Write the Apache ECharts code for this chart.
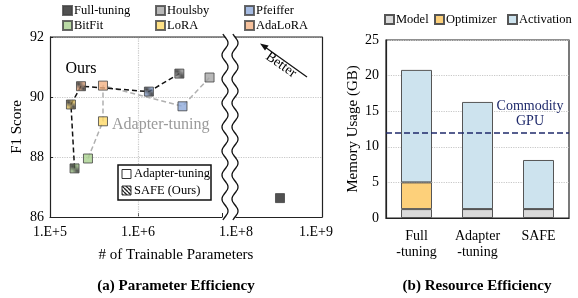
<!DOCTYPE html>
<html>
<head>
<meta charset="utf-8">
<script src="https://cdn.jsdelivr.net/npm/echarts@6/dist/echarts.min.js"></script>
<style>
  html, body { margin: 0; padding: 0; background: #fff; }
  #chart { width: 578px; height: 298px; }
</style>
</head>
<body>
<div id="chart"></div>
<script>
// ---- data (a): F1 vs trainable params ----
var methods = ["BitFit", "LoRA", "AdaLoRA", "Pfeiffer", "Houlsby"];
var adapterParams = [2.7e5, 4.0e5, 4.0e5, 3.2e6, 6.5e6];
var adapterF1 = [87.95, 89.19, 90.38, 89.69, 90.65];
var safeParams = [1.9e5, 1.73e5, 2.25e5, 1.33e6, 2.95e6];
var safeF1 = [87.62, 89.75, 90.36, 90.18, 90.78];
var fullParams = [3.55e8];
var fullF1 = [86.63];

// ---- data (b): memory usage ----
var memCats = ["Full\n-tuning", "Adapter\n-tuning", "SAFE"];
var modelMem = [1.25, 1.25, 1.25];
var optMem = [3.75, 0, 0];
var actMem = [15.8, 15.05, 6.9];
var gpuLimit = 12;

var colors = {
  "Full-tuning": "#262626", "Houlsby": "#a6a6a6", "Pfeiffer": "#8eaadb",
  "BitFit": "#a9d18e", "LoRA": "#ffd966", "AdaLoRA": "#f4b183"
};
var FONT = "Liberation Serif";

function hatch(base) {
  var c = document.createElement("canvas");
  c.width = 4; c.height = 4;
  var g = c.getContext("2d");
  g.fillStyle = base;
  g.fillRect(0, 0, 4, 4);
  g.strokeStyle = "#222";
  g.lineWidth = 1.4;
  for (var k = -1; k <= 1; k++) {
    g.beginPath();
    g.moveTo(k * 4, 0);
    g.lineTo(k * 4 + 4, 4);
    g.stroke();
  }
  return { type: "pattern", image: c, repeat: "repeat" };
}

function expLabel(v) {
  var e = Math.log10(v);
  var r = Math.round(e);
  if (Math.abs(e - r) > 1e-6) return "";
  return "1.E+" + r;
}

// wavy break lines
function wave(cx) {
  var pts = [];
  for (var y = 34; y <= 220; y += 1) {
    pts.push([cx + 3 * Math.sin(2 * Math.PI * (y - 37) / 24), y]);
  }
  return pts;
}
var waveL = wave(225), waveR = wave(235);
var maskPts = waveL.concat(waveR.slice().reverse());

var myChart = echarts.init(document.getElementById("chart"));

var series = [];
// dashed connecting lines
series.push({
  type: "line", xAxisIndex: 0, yAxisIndex: 0, z: 1, symbol: "none", silent: true,
  data: adapterParams.map(function (p, i) { return [p, adapterF1[i]]; }),
  lineStyle: { color: "#b0b0b0", width: 1.5, type: [5, 3] },
  markLine: {
    silent: true, symbol: "none", label: { show: false },
    lineStyle: { color: "#c8c8c8", type: "dotted", width: 1.2 },
    data: [{ xAxis: 1e6 }]
  }
});
series.push({
  type: "line", xAxisIndex: 0, yAxisIndex: 0, z: 1, symbol: "none", silent: true,
  data: safeParams.map(function (p, i) { return [p, safeF1[i]]; }),
  lineStyle: { color: "#111", width: 1.5, type: [5, 3] }
});
// markers
series.push({
  name: "Full-tuning", type: "scatter", xAxisIndex: 1, yAxisIndex: 1, z: 3,
  symbol: "rect", symbolSize: 9,
  itemStyle: { color: colors["Full-tuning"], borderColor: "#444", borderWidth: 1 },
  data: fullParams.map(function (p, i) { return [p, fullF1[i]]; })
});
methods.forEach(function (m, i) {
  series.push({
    name: m, type: "scatter", xAxisIndex: 0, yAxisIndex: 0, z: 3,
    symbol: "rect", symbolSize: 9,
    itemStyle: { color: colors[m], borderColor: "#444", borderWidth: 1 },
    data: [
      [adapterParams[i], adapterF1[i]],
      { value: [safeParams[i], safeF1[i]], itemStyle: { color: hatch(colors[m]) } }
    ]
  });
});
// bars
var barCommon = {
  type: "bar", xAxisIndex: 2, yAxisIndex: 2, stack: "mem", barWidth: 31
};
series.push(Object.assign({}, barCommon, {
  name: "Model", data: modelMem,
  itemStyle: { color: "#d9d9d9", borderColor: "#555", borderWidth: 1 }
}));
series.push(Object.assign({}, barCommon, {
  name: "Optimizer", data: optMem,
  itemStyle: { color: "#fdd07a", borderColor: "#555", borderWidth: 1 }
}));
series.push(Object.assign({}, barCommon, {
  name: "Activation", data: actMem,
  itemStyle: { color: "#cde3ee", borderColor: "#555", borderWidth: 1 },
  markLine: {
    silent: true, symbol: "none", label: { show: false },
    lineStyle: { color: "#1f2a6b", type: [6, 3], width: 1.5 },
    data: [{ yAxis: gpuLimit }]
  }
}));

function oneLegend(name, left, top) {
  return {
    data: [name], left: left, top: top, padding: 0, selectedMode: false,
    itemWidth: 9, itemHeight: 9, icon: "rect",
    textStyle: { fontFamily: FONT, fontSize: 12.5, color: "#000", padding: [0, 0, 0, -3] }
  };
}

var dotted = { show: true, lineStyle: { color: "#c8c8c8", type: "dotted", width: 1.2 } };
var axisLbl = { fontFamily: FONT, fontSize: 14, color: "#000" };

var option = {
  animation: false,
  backgroundColor: "#fff",
  legend: [
    oneLegend("Full-tuning", 62, 4), oneLegend("Houlsby", 155, 4), oneLegend("Pfeiffer", 244, 4),
    oneLegend("BitFit", 62, 19), oneLegend("LoRA", 155, 19), oneLegend("AdaLoRA", 244, 19),
    oneLegend("Model", 384, 13), oneLegend("Optimizer", 434, 13), oneLegend("Activation", 507, 13)
  ],
  grid: [
    { left: 50, top: 37, width: 172, height: 180 },
    { left: 236, top: 37, width: 86, height: 180 },
    { left: 386, top: 40, width: 183, height: 178, show: true, borderColor: "#222", borderWidth: 1.2 }
  ],
  xAxis: [
    {
      gridIndex: 0, type: "log", logBase: 10, min: 1e5, max: 9e6,
      axisLine: { lineStyle: { color: "#222", width: 1.2 } },
      axisTick: { inside: true, length: 4, lineStyle: { color: "#222" } },
      axisLabel: Object.assign({ formatter: expLabel, margin: 8 }, axisLbl),
      splitLine: { show: false }, minorTick: { show: false }
    },
    {
      gridIndex: 1, type: "log", logBase: 10, min: 1e8, max: 1.19e9,
      axisLine: { lineStyle: { color: "#222", width: 1.2 } },
      axisTick: { show: false },
      axisLabel: Object.assign({ formatter: expLabel, margin: 8 }, axisLbl),
      splitLine: { show: false }
    },
    {
      gridIndex: 2, type: "category", data: memCats,
      axisLine: { lineStyle: { color: "#222", width: 1.2 } },
      axisTick: { show: false },
      axisLabel: Object.assign({ margin: 10, lineHeight: 16 }, axisLbl)
    }
  ],
  yAxis: [
    {
      gridIndex: 0, type: "value", min: 86, max: 92, interval: 2,
      axisLine: { show: true, lineStyle: { color: "#222", width: 1.2 } },
      axisTick: { show: true, inside: true, length: 3, lineStyle: { color: "#222" } },
      axisLabel: Object.assign({ margin: 6 }, axisLbl),
      splitLine: dotted,
      name: "F1 Score", nameLocation: "middle", nameGap: 25,
      nameTextStyle: { fontFamily: FONT, fontSize: 15, color: "#000" }
    },
    {
      gridIndex: 1, type: "value", min: 86, max: 92, interval: 2, position: "right",
      axisLine: { show: true, lineStyle: { color: "#222", width: 1.2 } },
      axisTick: { show: false }, axisLabel: { show: false },
      splitLine: dotted
    },
    {
      gridIndex: 2, type: "value", min: 0, max: 25, interval: 5,
      axisLine: { show: true, lineStyle: { color: "#222", width: 1.2 } },
      axisTick: { show: false },
      axisLabel: Object.assign({ margin: 7 }, axisLbl),
      splitLine: dotted,
      name: "Memory Usage (GB)", nameLocation: "middle", nameGap: 25,
      nameTextStyle: { fontFamily: FONT, fontSize: 15, color: "#000" }
    }
  ],
  series: series,
  graphic: [
    // top borders
    { type: "line", z: 10, shape: { x1: 50, y1: 37, x2: 322, y2: 37 }, style: { stroke: "#222", lineWidth: 1.2 } },
    // axis break mask and wavy lines
    { type: "polygon", z: 50, shape: { points: maskPts }, style: { fill: "#fff" } },
    { type: "polyline", z: 51, shape: { points: waveL }, style: { stroke: "#111", lineWidth: 1.3, fill: null } },
    { type: "polyline", z: 51, shape: { points: waveR }, style: { stroke: "#111", lineWidth: 1.3, fill: null } },
    // better arrow
    { type: "line", z: 20, shape: { x1: 307, y1: 77, x2: 265, y2: 47 }, style: { stroke: "#111", lineWidth: 1.2 } },
    { type: "polygon", z: 20, shape: { points: [[260, 43.5], [268.6, 45.4], [265.0, 50.6]] }, style: { fill: "#111" } },
    { type: "text", z: 20, x: 281, y: 65, rotation: -0.61,
      style: { text: "Better", font: "14px " + FONT, fill: "#000", align: "center", verticalAlign: "middle" } },
    // annotations
    { type: "text", z: 20, x: 81, y: 69,
      style: { text: "Ours", font: "16px " + FONT, fill: "#000", align: "center", verticalAlign: "middle" } },
    { type: "text", z: 20, x: 112, y: 125,
      style: { text: "Adapter-tuning", font: "16px " + FONT, fill: "#9a9a9a", align: "left", verticalAlign: "middle" } },
    // inner legend
    { type: "rect", z: 20, shape: { x: 118, y: 165, width: 93, height: 35 }, style: { fill: "#fff", stroke: "#111", lineWidth: 1.5 } },
    { type: "rect", z: 21, shape: { x: 122, y: 169.5, width: 9, height: 9 }, style: { fill: "#fff", stroke: "#333", lineWidth: 1 } },
    { type: "rect", z: 21, shape: { x: 122, y: 186, width: 9, height: 9 }, style: { fill: hatch("#ffffff"), stroke: "#333", lineWidth: 1 } },
    { type: "text", z: 21, x: 134, y: 174,
      style: { text: "Adapter-tuning", font: "12.5px " + FONT, fill: "#000", verticalAlign: "middle" } },
    { type: "text", z: 21, x: 134, y: 190.5,
      style: { text: "SAFE (Ours)", font: "12.5px " + FONT, fill: "#000", verticalAlign: "middle" } },
    // commodity GPU label
    { type: "text", z: 20, x: 530, y: 114,
      style: { text: "Commodity\nGPU", font: "14px " + FONT, lineHeight: 15, fill: "#1f2a6b", align: "center", verticalAlign: "middle" } },
    // x axis name and panel titles
    { type: "text", z: 20, x: 176, y: 255,
      style: { text: "# of Trainable Parameters", font: "15px " + FONT, fill: "#000", align: "center", verticalAlign: "middle" } },
    { type: "text", z: 20, x: 176, y: 286,
      style: { text: "(a) Parameter Efficiency", font: "bold 15px " + FONT, fill: "#000", align: "center", verticalAlign: "middle" } },
    { type: "text", z: 20, x: 477, y: 286,
      style: { text: "(b) Resource Efficiency", font: "bold 15px " + FONT, fill: "#000", align: "center", verticalAlign: "middle" } }
  ]
};
myChart.setOption(option);
</script>
</body>
</html>
